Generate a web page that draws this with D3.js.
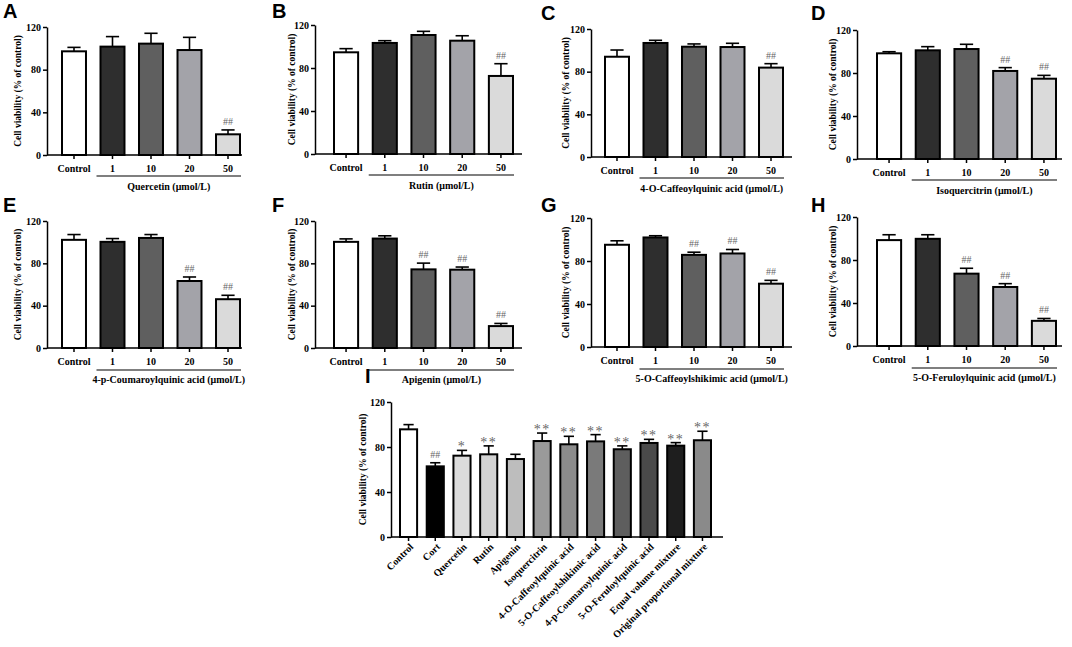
<!DOCTYPE html>
<html>
<head>
<meta charset="utf-8">
<script src="https://d3js.org/d3.v7.min.js"></script>
<style>
  body { margin: 0; background: #fff; }
  svg text { font-family: "Liberation Serif", "Times New Roman", serif; font-weight: bold; }
  .letter { font-family: "Liberation Sans", Arial, sans-serif !important; }
</style>
</head>
<body>
<script>
// ---- data ----
var doses = ["Control", "1", "10", "20", "50"];
var doseColors = ["#ffffff", "#2e2e2e", "#5f5f5f", "#a3a3a9", "#dadada"];
var yTicks = [0, 40, 80, 120];

var panelLetters = ["A", "B", "C", "D", "E", "F", "G", "H"];
var compoundNames = ["Quercetin", "Rutin", "4-O-Caffeoylquinic acid", "Isoquercitrin",
  "4-p-Coumaroylquinic acid", "Apigenin", "5-O-Caffeoylshikimic acid", "5-O-Feruloylquinic acid"];

var quercetinMean = [97.2, 101.6, 104.4, 98.4, 19.4];
var quercetinSd   = [3.7, 9.4, 9.7, 11.9, 4.1];
var quercetinMark = ["", "", "", "", "##"];

var rutinMean = [94.6, 103.3, 110.7, 105.4, 72.6];
var rutinSd   = [3.4, 2.1, 3.4, 4.6, 11.4];
var rutinMark = ["", "", "", "", "##"];

var cqa4Mean = [94.0, 106.9, 103.4, 103.1, 83.8];
var cqa4Sd   = [6.3, 2.5, 2.6, 3.5, 3.7];
var cqa4Mark = ["", "", "", "", "##"];

var isoqMean = [98.3, 101.1, 102.3, 81.9, 74.7];
var isoqSd   = [1.5, 3.4, 4.4, 3.1, 3.1];
var isoqMark = ["", "", "", "##", "##"];

var pcqa4Mean = [102.2, 100.3, 104.0, 63.3, 46.1];
var pcqa4Sd   = [5.0, 3.1, 3.2, 3.8, 3.7];
var pcqa4Mark = ["", "", "", "##", "##"];

var apigeninMean = [100.3, 103.4, 74.3, 74.0, 20.7];
var apigeninSd   = [2.8, 2.6, 5.9, 2.5, 2.5];
var apigeninMark = ["", "", "##", "##", "##"];

var csa5Mean = [95.1, 101.9, 85.7, 87.0, 58.9];
var csa5Sd   = [3.7, 1.6, 2.5, 3.7, 3.1];
var csa5Mark = ["", "", "##", "##", "##"];

var fqa5Mean = [98.5, 99.7, 67.3, 54.9, 23.4];
var fqa5Sd   = [5.0, 3.8, 5.0, 3.1, 2.2];
var fqa5Mark = ["", "", "##", "##", "##"];

var panelMeans = [quercetinMean, rutinMean, cqa4Mean, isoqMean, pcqa4Mean, apigeninMean, csa5Mean, fqa5Mean];
var panelSds   = [quercetinSd, rutinSd, cqa4Sd, isoqSd, pcqa4Sd, apigeninSd, csa5Sd, fqa5Sd];
var panelMarks = [quercetinMark, rutinMark, cqa4Mark, isoqMark, pcqa4Mark, apigeninMark, csa5Mark, fqa5Mark];

// panel I
var groupsI = ["Control", "Cort", "Quercetin", "Rutin", "Apigenin", "Isoquercitrin",
  "4-O-Caffeoylquinic acid", "5-O-Caffeoylshikimic acid", "4-p-Coumaroylquinic acid",
  "5-O-Feruloylquinic acid", "Equal volume mixture", "Original proportional mixture"];
var meanI = [95.7, 62.8, 72.3, 73.5, 69.3, 85.3, 82.4, 85.0, 78.0, 83.6, 81.2, 86.0];
var sdI   = [4.2, 3.2, 4.7, 7.5, 4.2, 7.1, 7.1, 6.0, 3.0, 3.2, 2.7, 8.0];
var markI = ["", "##", "*", "**", "", "**", "**", "**", "**", "**", "**", "**"];
var colorsI = ["#ffffff", "#000000", "#dcdcdc", "#d2d2d2", "#bdbdbd", "#9a9a9a",
  "#8c8c8c", "#7a7a7a", "#5e5e5e", "#4a4a4a", "#1e1e1e", "#8a8a8a"];

// ---- layout ----
var width = 1072, height = 647;
var svg = d3.select("body").append("svg").attr("width", width).attr("height", height);

var cols = [
  {x0: 0,   axisX: 47, first: 62, last: 240, axisEnd: 242, titleX: 18, letterX: 3},
  {x0: 265, axisX: 50, first: 69, last: 248, axisEnd: 257, titleX: 27, letterX: 7},
  {x0: 530, axisX: 61, first: 75, last: 253, axisEnd: 262, titleX: 36, letterX: 11},
  {x0: 800, axisX: 57, first: 77, last: 256, axisEnd: 262, titleX: 33, letterX: 11}
];
var rowTops    = [[27, 25, 29, 30], [221, 221, 218, 217]];
var rowBottoms = [[155, 154, 157, 159], [348, 348, 347, 346]];
var letterY = [[18, 18, 20, 20], [212, 212, 212, 212]];

function styleAxis(g) {
  g.attr("font-family", null).attr("font-size", null);
  g.selectAll("path,line").attr("stroke", "#000").attr("stroke-width", 1.5);
  g.selectAll("text").attr("font-size", 10).attr("fill", "#000");
}

function drawBars(g, cats, mean, sd, mark, colors, x, y, capFrac, markSize) {
  var data = cats.map(function(c, i) { return {c: c, m: mean[i], s: sd[i], k: mark[i], col: colors[i]}; });
  var bw = x.bandwidth();
  var cap = bw * capFrac;

  g.selectAll(".err").data(data).enter().append("line")
    .attr("x1", function(d) { return x(d.c) + bw / 2; })
    .attr("x2", function(d) { return x(d.c) + bw / 2; })
    .attr("y1", function(d) { return y(d.m); })
    .attr("y2", function(d) { return y(d.m + d.s); })
    .attr("stroke", "#000").attr("stroke-width", 1.6);
  g.selectAll(".cap").data(data).enter().append("line")
    .attr("x1", function(d) { return x(d.c) + bw / 2 - cap / 2; })
    .attr("x2", function(d) { return x(d.c) + bw / 2 + cap / 2; })
    .attr("y1", function(d) { return y(d.m + d.s); })
    .attr("y2", function(d) { return y(d.m + d.s); })
    .attr("stroke", "#000").attr("stroke-width", 1.6);

  g.selectAll(".bar").data(data).enter().append("rect")
    .attr("x", function(d) { return x(d.c); })
    .attr("y", function(d) { return y(d.m); })
    .attr("width", bw)
    .attr("height", function(d) { return y(0) - y(d.m); })
    .attr("fill", function(d) { return d.col; })
    .attr("stroke", "#000").attr("stroke-width", 2);

  g.selectAll(".mark").data(data.filter(function(d) { return d.k; })).enter().append("text")
    .attr("x", function(d) { return x(d.c) + bw / 2; })
    .attr("y", function(d) { return d.k.indexOf("#") >= 0 ? y(d.m + d.s) - 5 : y(d.m + d.s) + 1; })
    .attr("text-anchor", "middle")
    .attr("font-size", function(d) { return d.k.indexOf("#") >= 0 ? 10 : markSize; })
    .attr("letter-spacing", function(d) { return d.k.indexOf("#") >= 0 ? 0 : 1.5; })
    .attr("fill", "#666")
    .style("font-weight", "normal")
    .text(function(d) { return d.k; });
}

// ---- panels A-H ----
panelLetters.forEach(function(letter, i) {
  var row = Math.floor(i / 4), ci = i % 4, c = cols[ci];
  var top = rowTops[row][ci], bottom = rowBottoms[row][ci];
  var g = svg.append("g").attr("transform", "translate(" + c.x0 + ",0)");

  var x = d3.scaleBand().domain(doses).range([c.first, c.last]).paddingInner(0.377).paddingOuter(0);
  var y = d3.scaleLinear().domain([0, 120]).range([bottom, top]);

  var ya = g.append("g").attr("transform", "translate(" + c.axisX + ",0)")
    .call(d3.axisLeft(y).tickValues(yTicks).tickSize(4).tickSizeOuter(0).tickPadding(2));
  styleAxis(ya);

  var xa = g.append("g").attr("transform", "translate(0," + bottom + ")")
    .call(d3.axisBottom(x).tickSize(4).tickSizeOuter(0).tickPadding(6));
  xa.select(".domain").remove();
  styleAxis(xa);
  g.append("line").attr("x1", c.axisX).attr("x2", c.axisEnd).attr("y1", bottom).attr("y2", bottom)
    .attr("stroke", "#000").attr("stroke-width", 1.5);

  drawBars(g, doses, panelMeans[i], panelSds[i], panelMarks[i], doseColors, x, y, 0.55, 14);

  // dose group underline and label
  var ux1 = x(doses[1]) - 4, ux2 = c.last + 1;
  var uy = bottom + (row === 0 ? 21 : 22);
  g.append("line").attr("x1", ux1).attr("x2", ux2).attr("y1", uy).attr("y2", uy)
    .attr("stroke", "#000").attr("stroke-width", 1.2);
  g.append("text").attr("x", (ux1 + ux2) / 2).attr("y", bottom + 35)
    .attr("text-anchor", "middle").attr("font-size", 10)
    .text(compoundNames[i] + " (\u03bcmol/L)");

  g.append("text")
    .attr("transform", "translate(" + c.titleX + "," + (top + bottom) / 2 + ") rotate(-90)")
    .attr("dy", "0.35em").attr("text-anchor", "middle").attr("font-size", 9.5)
    .text("Cell viability (% of control)");

  g.append("text").attr("class", "letter").attr("x", c.letterX).attr("y", letterY[row][ci])
    .attr("font-size", 20).text(letter);
});

// ---- panel I ----
(function() {
  var axisX = 391, top = 402, bottom = 537;
  var g = svg.append("g");
  var x = d3.scaleBand().domain(groupsI).range([400, 711]).paddingInner(0.36).paddingOuter(0);
  var y = d3.scaleLinear().domain([0, 120]).range([bottom, top]);

  var ya = g.append("g").attr("transform", "translate(" + axisX + ",0)")
    .call(d3.axisLeft(y).tickValues(yTicks).tickSize(4).tickSizeOuter(0).tickPadding(2));
  styleAxis(ya);

  var xa = g.append("g").attr("transform", "translate(0," + bottom + ")")
    .call(d3.axisBottom(x).tickSize(4).tickSizeOuter(0));
  xa.select(".domain").remove();
  xa.selectAll("text").remove();
  styleAxis(xa);
  g.append("line").attr("x1", axisX).attr("x2", 723).attr("y1", bottom).attr("y2", bottom)
    .attr("stroke", "#000").attr("stroke-width", 1.5);

  g.selectAll(".lab").data(groupsI).enter().append("text")
    .attr("transform", function(d) { return "translate(" + (x(d) + x.bandwidth() / 2 + 3) + "," + (bottom + 8) + ") rotate(-45)"; })
    .attr("text-anchor", "end").attr("dy", "0.35em").attr("font-size", 10)
    .text(function(d) { return d; });

  drawBars(g, groupsI, meanI, sdI, markI, colorsI, x, y, 0.6, 14);

  g.append("text")
    .attr("transform", "translate(363," + (top + bottom) / 2 + ") rotate(-90)")
    .attr("dy", "0.35em").attr("text-anchor", "middle").attr("font-size", 9.5)
    .text("Cell viability (% of control)");

  g.append("text").attr("class", "letter").attr("x", 365).attr("y", 383)
    .attr("font-size", 20).text("I");
})();
</script>
</body>
</html>
